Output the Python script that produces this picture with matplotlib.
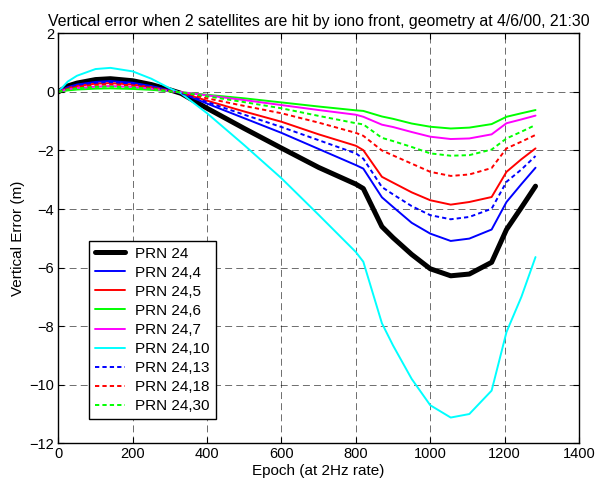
import matplotlib
matplotlib.use('Agg')
import matplotlib.pyplot as plt

plt.rcParams['font.family'] = ['Liberation Sans', 'DejaVu Sans']
plt.rcParams['font.size'] = 10

# epochs sampled along the curves (2 Hz epochs)
epochs = [0, 25, 50, 100, 140, 200, 250, 300, 330, 400, 500, 600, 700,
          800, 820, 870, 900, 950, 1000, 1055, 1105, 1165, 1205, 1245, 1283]

prn24 = [0, 0.20, 0.30, 0.42, 0.45, 0.38, 0.25, 0.07, -0.05, -0.56, -1.25, -1.92, -2.58,
         -3.15, -3.30, -4.60, -4.98, -5.55, -6.04, -6.28, -6.22, -5.82, -4.70, -3.95, -3.22]
prn24_4 = [0, 0.16, 0.25, 0.34, 0.37, 0.31, 0.20, 0.05, -0.04, -0.40, -0.90, -1.40, -1.95,
           -2.50, -2.62, -3.60, -3.93, -4.47, -4.84, -5.09, -5.01, -4.70, -3.76, -3.15, -2.59]
prn24_5 = [0, 0.13, 0.20, 0.28, 0.30, 0.25, 0.16, 0.04, -0.03, -0.30, -0.67, -1.02, -1.45,
           -1.84, -1.99, -2.90, -3.10, -3.43, -3.70, -3.85, -3.76, -3.59, -2.73, -2.30, -1.93]
prn24_6 = [0, 0.05, 0.08, 0.11, 0.12, 0.10, 0.07, 0.02, -0.01, -0.10, -0.22, -0.36, -0.50,
           -0.63, -0.65, -0.84, -0.92, -1.08, -1.19, -1.25, -1.22, -1.10, -0.85, -0.73, -0.62]
prn24_7 = [0, 0.09, 0.13, 0.18, 0.20, 0.17, 0.11, 0.03, -0.01, -0.12, -0.28, -0.45, -0.62,
           -0.78, -0.85, -1.12, -1.20, -1.37, -1.53, -1.61, -1.59, -1.45, -1.07, -0.94, -0.81]
prn24_10 = [0, 0.35, 0.55, 0.78, 0.82, 0.70, 0.45, 0.12, -0.05, -0.73, -1.82, -2.95, -4.20,
            -5.47, -5.80, -7.90, -8.66, -9.80, -10.70, -11.12, -11.00, -10.20, -8.20, -7.00, -5.64]
prn24_13 = [0, 0.14, 0.22, 0.31, 0.33, 0.28, 0.18, 0.04, -0.04, -0.35, -0.78, -1.20, -1.65,
            -2.10, -2.28, -3.25, -3.50, -3.90, -4.21, -4.35, -4.27, -3.99, -3.07, -2.65, -2.19]
prn24_18 = [0, 0.11, 0.17, 0.24, 0.26, 0.22, 0.14, 0.03, -0.02, -0.22, -0.48, -0.73, -1.05,
            -1.40, -1.50, -2.00, -2.17, -2.45, -2.73, -2.87, -2.82, -2.60, -1.93, -1.70, -1.47]
prn24_30 = [0, 0.08, 0.12, 0.17, 0.18, 0.15, 0.10, 0.02, -0.02, -0.15, -0.35, -0.56, -0.82,
            -1.07, -1.11, -1.57, -1.68, -1.88, -2.10, -2.18, -2.16, -1.97, -1.59, -1.36, -1.13]

labels = ['PRN 24', 'PRN 24,4', 'PRN 24,5', 'PRN 24,6', 'PRN 24,7',
          'PRN 24,10', 'PRN 24,13', 'PRN 24,18', 'PRN 24,30']

fig = plt.figure(figsize=(5.97, 4.87), dpi=100)
ax = fig.add_axes([0.0977, 0.0897, 0.8722, 0.8419])

dash = (0, (2.2, 1.6))
series = [
    (prn24, 'k', '-', 3.6),
    (prn24_4, '#0000ff', '-', 1.4),
    (prn24_5, '#ff0000', '-', 1.4),
    (prn24_6, '#00ff00', '-', 1.4),
    (prn24_7, '#ff00ff', '-', 1.4),
    (prn24_10, '#00ffff', '-', 1.4),
    (prn24_13, '#0000ff', dash, 1.4),
    (prn24_18, '#ff0000', dash, 1.4),
    (prn24_30, '#00ff00', dash, 1.4),
]
for (vals, col, ls, lw), lab in zip(series, labels):
    ax.plot(epochs, vals, color=col, linestyle=ls, linewidth=lw, label=lab,
            solid_capstyle='round', solid_joinstyle='round')

ax.set_xlim(0, 1400)
ax.set_ylim(-12, 2)
ax.set_xticks(range(0, 1401, 200))
ax.set_yticks(range(-12, 3, 2))
ax.grid(True, color='k', linestyle=(0, (10, 6)), linewidth=0.5, alpha=0.8)
ax.tick_params(direction='in', top=True, right=True, length=4, width=0.8, pad=3,
               labelsize=10.5)
for s in ax.spines.values():
    s.set_linewidth(1.0)

ax.set_title('Vertical error when 2 satellites are hit by iono front, geometry at 4/6/00, 21:30',
             fontsize=11.4, pad=5)
ax.set_xlabel('Epoch (at 2Hz rate)', fontsize=11, labelpad=2)
ax.set_ylabel('Vertical Error (m)', fontsize=11, labelpad=3)

leg = ax.legend(loc='lower left', bbox_to_anchor=(0.0595, 0.059), borderaxespad=0,
                fancybox=False, edgecolor='k', framealpha=1, handlelength=1.95,
                labelspacing=0.33, borderpad=0.4, handletextpad=0.65, fontsize=11)
leg.get_frame().set_linewidth(1.0)

fig.savefig('out.png', dpi=100)
